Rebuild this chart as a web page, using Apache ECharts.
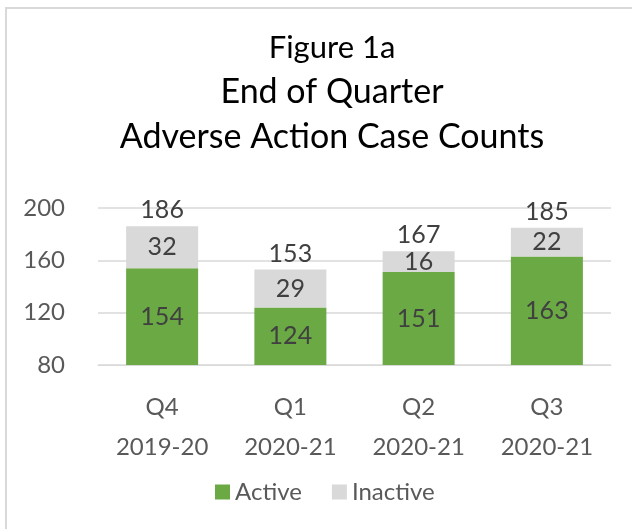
<!DOCTYPE html>
<html>
<head>
<meta charset="utf-8">
<script src="https://cdn.jsdelivr.net/npm/echarts@6/dist/echarts.min.js"></script>
<style>
  html, body { margin: 0; padding: 0; background: #fff; }
  #chart { width: 632px; height: 529px; }
</style>
</head>
<body>
<div id="chart"></div>
<script>
var quarters = ['Q4\n2019-20', 'Q1\n2020-21', 'Q2\n2020-21', 'Q3\n2020-21'];
var active = [154, 124, 151, 163];
var inactive = [32, 29, 16, 22];
var totals = [186, 153, 167, 185];
var yTicks = [80, 120, 160, 200];

var font = 'Lato, "Open Sans", sans-serif';

var chart = echarts.init(document.getElementById('chart'));
var option = {
    animation: false,
    textStyle: { fontFamily: font },
    graphic: [{
        type: 'rect',
        shape: { x: 6, y: 8, width: 700, height: 600 },
        style: { fill: 'none', stroke: '#d9d9d9', lineWidth: 2 }
    }],
    title: [{
        text: 'Figure 1a',
        left: 327, top: 27, textAlign: 'center',
        textStyle: { fontFamily: font, fontSize: 31, fontWeight: 'normal', color: '#000' }
    }, {
        text: 'End of Quarter',
        left: 327, top: 70, textAlign: 'center',
        textStyle: { fontFamily: font, fontSize: 34, fontWeight: 'normal', color: '#000' }
    }, {
        text: 'Adverse Action Case Counts',
        left: 327, top: 115, textAlign: 'center',
        textStyle: { fontFamily: font, fontSize: 34, fontWeight: 'normal', color: '#000' }
    }],
    legend: {
        bottom: 20,
        left: 210,
        itemWidth: 15,
        itemHeight: 15,
        itemGap: 30,
        icon: 'rect',
        data: ['Active', 'Inactive'],
        textStyle: { fontFamily: font, fontSize: 24, color: '#595959' }
    },
    grid: { left: 98, right: 21, top: 208, height: 157 },
    xAxis: {
        type: 'category',
        data: quarters,
        axisLine: { show: true, lineStyle: { color: '#d9d9d9' } },
        axisTick: { show: false },
        axisLabel: { fontFamily: font, fontSize: 24, color: '#595959', lineHeight: 40, margin: 22 }
    },
    yAxis: {
        type: 'value',
        min: yTicks[0],
        max: yTicks[yTicks.length - 1],
        interval: 40,
        axisLine: { show: false },
        axisTick: { show: false },
        splitLine: { lineStyle: { color: '#d9d9d9', width: 1.5 } },
        axisLabel: { fontFamily: font, fontSize: 24, color: '#595959', margin: 33 }
    },
    series: [{
        name: 'Active',
        type: 'bar',
        stack: 'q',
        barWidth: 72,
        data: active,
        itemStyle: { color: '#6aa943' },
        label: { show: true, position: 'inside', fontFamily: font, fontSize: 25, color: '#404040' }
    }, {
        name: 'Inactive',
        type: 'bar',
        stack: 'q',
        barWidth: 72,
        data: inactive,
        itemStyle: { color: '#d9d9d9' },
        label: { show: true, position: 'inside', fontFamily: font, fontSize: 25, color: '#404040' }
    }, {
        name: 'Total',
        type: 'line',
        data: totals,
        symbol: 'circle',
        symbolSize: 1,
        showSymbol: true,
        itemStyle: { color: 'rgba(0,0,0,0)' },
        lineStyle: { opacity: 0 },
        label: { show: true, position: 'top', distance: 3, fontFamily: font, fontSize: 25, color: '#404040' },
        tooltip: { show: false }
    }]
};
chart.setOption(option);
</script>
</body>
</html>
